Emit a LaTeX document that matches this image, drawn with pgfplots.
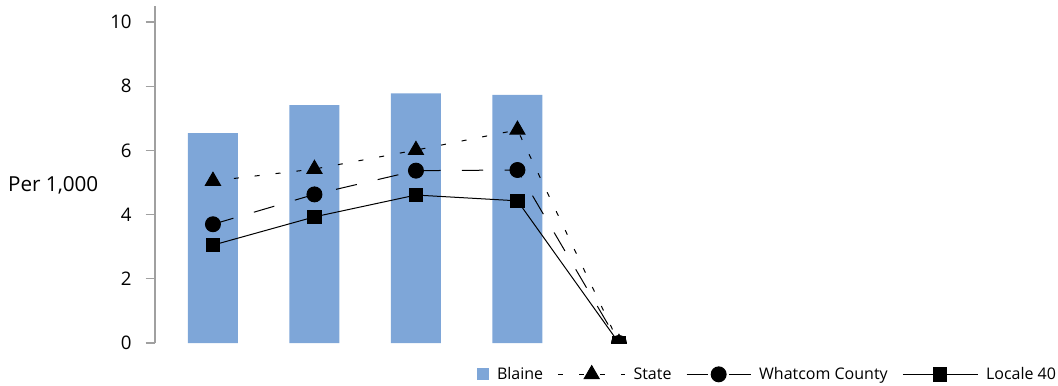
\documentclass[border=0pt]{standalone}
\usepackage{pgfplots}
\pgfplotsset{compat=1.18}
\usepackage{fontspec}
\setmainfont{Open Sans}
\definecolor{barblue}{RGB}{126,166,216}
\definecolor{axgray}{RGB}{160,160,160}
\pgfplotsset{
  legA/.style={legend image code/.code={\draw[mark repeat=2,mark phase=2,##1] plot coordinates {(0pt,0pt) (25pt,0pt) (50pt,0pt)};}},
  legB/.style={legend image code/.code={\draw[mark repeat=2,mark phase=2,##1] plot coordinates {(0pt,0pt) (24pt,0pt) (48pt,0pt)};}},
  legC/.style={legend image code/.code={\draw[mark repeat=2,mark phase=2,##1] plot coordinates {(0pt,0pt) (28pt,0pt) (56pt,0pt)};}},
  legBar/.style={legend image code/.code={\fill[barblue] (0pt,-4.5pt) rectangle (9pt,4.5pt);}},
}
\begin{document}
\begin{tikzpicture}
\useasboundingbox (-116.25pt,-32.25pt) rectangle (677.25pt,257.25pt);
\begin{axis}[
  name=ax,
  at={(0,0)}, anchor=south west,
  scale only axis,
  width=675pt, height=252.75pt,
  xmin=-0.571, xmax=8.296,
  ymin=0, ymax=10.5,
  hide x axis,
  axis y line*=left,
  y axis line style={axgray, line width=1pt, -},
  ytick={0,2,...,10},
  major tick length=7pt,
  tick align=outside,
  y tick style={axgray, line width=1pt},
  tick label style={font=\fontsize{14}{16}\selectfont},
  /pgf/number format/assume math mode=true,
  yticklabel style={xshift=-7pt},
  ylabel={Per 1,000},
  ylabel style={rotate=-90, at={(rel axis cs:0,0.467)}, anchor=east, xshift=-39pt, font=\fontsize{15.5}{18}\selectfont},
  clip marker paths=true,
  legend columns=4,
  legend cell align=left,
  legend style={at={(1,0)}, anchor=north east, yshift=-14pt, xshift=6pt, draw=none, fill=none,
    font=\fontsize{12}{14}\selectfont,
    /tikz/every odd column/.append style={column sep=4pt},
    /tikz/every even column/.append style={column sep=9pt}},
]
\addplot[ybar, bar width=37.5pt, fill=barblue, draw=none, legBar]
  coordinates {(0,6.54) (1,7.41) (2,7.78) (3,7.73)};
\addlegendentry{Blaine}
\addplot[black, line width=0.75pt, dash pattern=on 3.75pt off 12pt,
  mark=triangle*, mark size=6.5pt, mark options={solid}, legA]
  coordinates {(0,5.05) (1,5.42) (2,6.01) (3,6.64) (4,0)};
\addlegendentry{State}
\addplot[black, line width=0.75pt, dash pattern=on 16pt off 16pt,
  mark=*, mark size=5.6pt, mark options={solid}, legB]
  coordinates {(0,3.70) (1,4.63) (2,5.37) (3,5.39) (4,0)};
\addlegendentry{Whatcom County}
\addplot[black, line width=0.75pt,
  mark=square*, mark size=5pt, mark options={solid}, legC]
  coordinates {(0,3.05) (1,3.93) (2,4.61) (3,4.43) (4,0)};
\addlegendentry{Locale 40}
\end{axis}
\end{tikzpicture}
\end{document}
